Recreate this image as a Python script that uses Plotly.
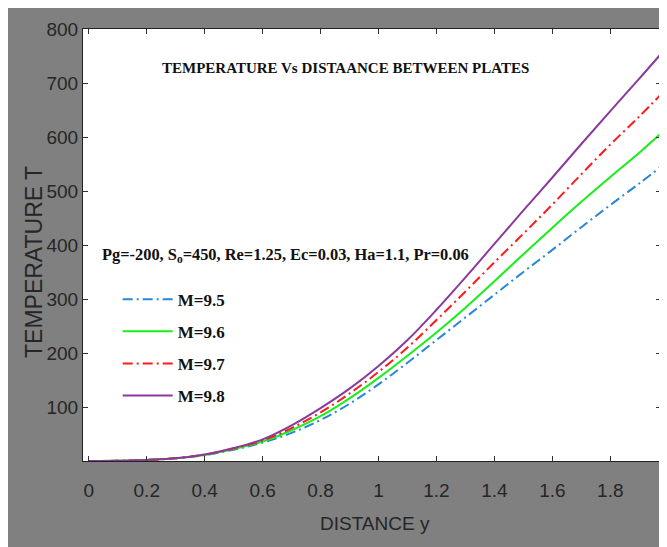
import plotly.graph_objects as go

# ---- data ----
distance_y = [0.0, 0.1, 0.2, 0.3, 0.4, 0.5, 0.6, 0.7, 0.8, 0.9, 1.0, 1.1, 1.2,
              1.3, 1.4, 1.5, 1.6, 1.7, 1.8, 1.9, 1.975]
temp_m95 = [0, 0.3, 2, 5, 11, 21, 34, 52, 76, 106, 142, 182, 224, 266, 308,
            350, 391, 433, 474, 514, 545]
temp_m96 = [0, 0.3, 2, 5, 11, 22, 36, 57, 83, 116, 154, 195, 238, 284, 333,
            383, 432, 480, 526, 571, 607]
temp_m97 = [0, 0.3, 2, 5, 12, 23, 38, 61, 90, 125, 165, 210, 261, 314, 368,
            421, 475, 531, 586, 638, 679]
temp_m98 = [0, 0.3, 2, 5, 12, 24, 40, 66, 98, 134, 176, 224, 280, 340, 402,
            464, 525, 587, 648, 708, 754]
series_names = ["M=9.5", "M=9.6", "M=9.7", "M=9.8"]
x_tick_vals = [0, 0.2, 0.4, 0.6, 0.8, 1.0, 1.2, 1.4, 1.6, 1.8]
x_tick_text = ["0", "0.2", "0.4", "0.6", "0.8", "1", "1.2", "1.4", "1.6", "1.8"]
y_tick_vals = [100, 200, 300, 400, 500, 600, 700, 800]

colors = ["#2886d6", "#19ee19", "#ff1a1a", "#8a3a9a"]
dashes = ["10px,4px,2px,4px", "solid", "10px,4px,2px,4px", "solid"]

fig = go.Figure()
for i, (name, vals) in enumerate(zip(series_names,
                                     [temp_m95, temp_m96, temp_m97, temp_m98])):
    fig.add_trace(go.Scatter(
        x=distance_y, y=vals, mode="lines", name="<b>" + name + "</b>",
        line=dict(color=colors[i], width=2, dash=dashes[i], shape="spline"),
        legendgroup=name,
    ))

axis_font = dict(family="Liberation Sans, Arial, sans-serif", size=19, color="#262626")

fig.update_layout(
    width=659, height=539,
    paper_bgcolor="#808080",
    plot_bgcolor="white",
    margin=dict(l=75, r=6, t=21, b=86),
    showlegend=True,
    legend=dict(
        x=0.06, y=0.415, xanchor="left", yanchor="top",
        bgcolor="rgba(0,0,0,0)", borderwidth=0,
        font=dict(family="Liberation Serif, Times New Roman, serif", size=17,
                  color="#111111"),
        tracegroupgap=7, itemwidth=50,
    ),
    xaxis=dict(
        range=[-0.02, 1.975],
        tickvals=x_tick_vals, ticktext=x_tick_text,
        ticks="inside", ticklen=5, tickcolor="#333333",
        showline=True, linecolor="#222222", linewidth=1, mirror="ticks",
        showgrid=False, zeroline=False,
        tickfont=axis_font, ticklabelstandoff=12,
    ),
    yaxis=dict(
        range=[0, 800],
        tickvals=y_tick_vals,
        ticks="inside", ticklen=5, tickcolor="#333333",
        showline=True, linecolor="#222222", linewidth=1, mirror="ticks",
        showgrid=False, zeroline=False,
        tickfont=axis_font, ticklabelstandoff=0,
    ),
    annotations=[
        dict(text="<b>TEMPERATURE Vs DISTAANCE BETWEEN PLATES</b>",
             xref="paper", yref="paper", x=0.4536, y=0.910,
             xanchor="center", yanchor="middle", showarrow=False,
             font=dict(family="Liberation Serif, Times New Roman, serif",
                       size=15, color="#111111")),
        dict(text="<b>Pg=-200, S<sub>o</sub>=450, Re=1.25, Ec=0.03, Ha=1.1, Pr=0.06</b>",
             xref="paper", yref="paper", x=0.030, y=0.477,
             xanchor="left", yanchor="middle", showarrow=False,
             font=dict(family="Liberation Serif, Times New Roman, serif",
                       size=16.4, color="#111111")),
        dict(text="DISTANCE y", xref="paper", yref="paper",
             x=(375 - 83) / 578, y=(461 - 523) / 432,
             xanchor="center", yanchor="middle", showarrow=False,
             font=dict(family="Liberation Sans, Arial, sans-serif", size=19,
                       color="#262626")),
        dict(text="TEMPERATURE T", xref="paper", yref="paper",
             x=(34 - 83) / 578, y=(461 - 262) / 432, textangle=-90,
             xanchor="center", yanchor="middle", showarrow=False,
             font=dict(family="Liberation Sans, Arial, sans-serif", size=23,
                       color="#262626")),
    ],
)

fig.write_html("out.html")
